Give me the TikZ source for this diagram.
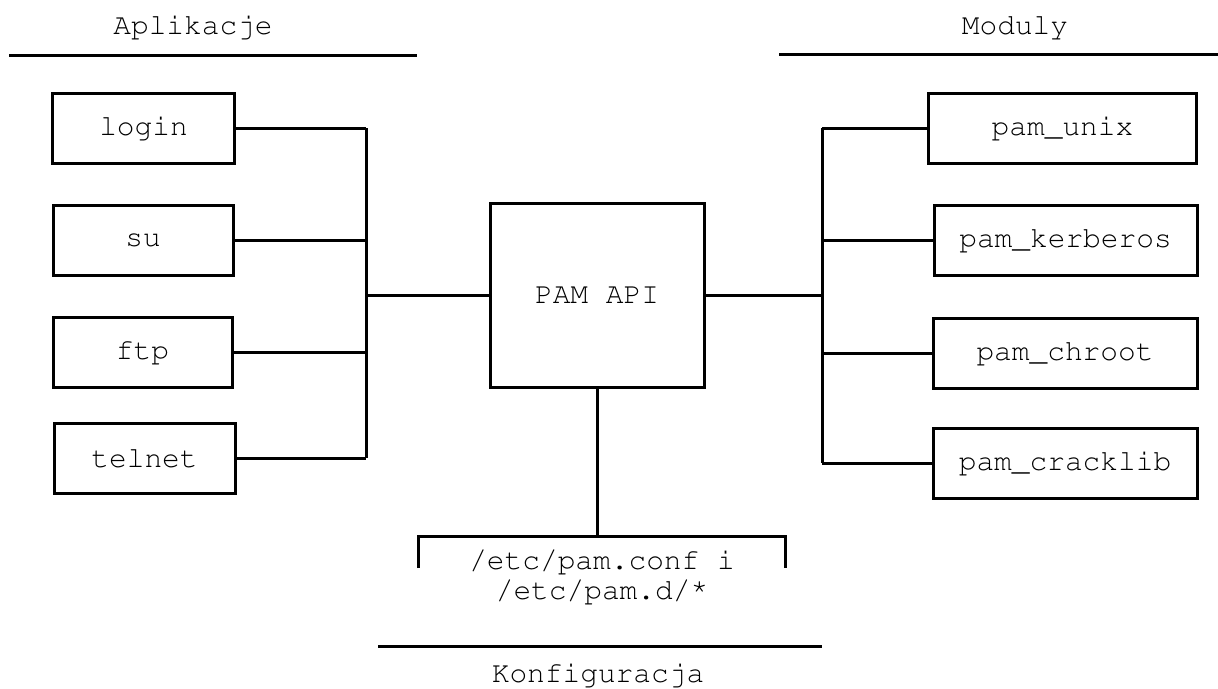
\documentclass[tikz,border=0pt]{standalone}
\usepackage[T1]{fontenc}
\usepackage{courier}
\renewcommand{\familydefault}{\ttdefault}
\begin{document}
\begin{tikzpicture}[x=1pt,y=-1pt,
  every node/.style={font=\ttfamily\fontsize{29.5}{30}\selectfont, inner sep=0pt},
  box/.style={draw, line width=3pt, minimum height=70pt},
  wire/.style={line width=3pt},
  rule/.style={line width=3pt}]
\useasboundingbox (0,0) rectangle (1218,688);
% headers
\node (hApp) at (193,27) {Aplikacje};
\node (hMod) at (1015,27) {Moduly};
\node (hCfg) at (598,675) {Konfiguracja};
\draw[rule] (9,55) -- (417,55);
\draw[rule] (779,54) -- (1218,54);
\draw[rule] (378,646) -- (822,646);
% left boxes
\node[box, minimum width=182pt] (login) at (143.5,128) {login};
\node[box, minimum width=180pt] (su) at (143,240.5) {su};
\node[box, minimum width=179pt] (ftp) at (142.5,352) {ftp};
\node[box, minimum width=181pt] (telnet) at (144.5,458) {telnet};
% central
\node[box, minimum width=214pt, minimum height=184pt] (pam) at (597,295) {PAM API};
% right boxes
\node[box, minimum width=268pt] (unix) at (1062.5,128) {pam\_unix};
\node[box, minimum width=263pt] (kerb) at (1065.5,240.5) {pam\_kerberos};
\node[box, minimum width=264pt] (chroot) at (1065,353) {pam\_chroot};
\node[box, minimum width=264pt] (crack) at (1065,463) {pam\_cracklib};
% config text
\node[align=center] (cfg) at (602,577) {/etc/pam.conf i\\/etc/pam.d/\raisebox{0.35ex}{*}};
% buses
\coordinate (busLtop) at (366,128);
\coordinate (busLbot) at (366,458);
\coordinate (busRtop) at (822,128);
\coordinate (busRbot) at (822,463);
\draw[wire] (busLtop) -- (busLbot);
\draw[wire] (busRtop) -- (busRbot);
\draw[wire] (login.east) -- (login.east -| busLtop);
\draw[wire] (su.east) -- (su.east -| busLtop);
\draw[wire] (ftp.east) -- (ftp.east -| busLtop);
\draw[wire] (telnet.east) -- (telnet.east -| busLtop);
\draw[wire] (pam.west) -- (pam.west -| busLtop);
\draw[wire] (unix.west) -- (unix.west -| busRtop);
\draw[wire] (kerb.west) -- (kerb.west -| busRtop);
\draw[wire] (chroot.west) -- (chroot.west -| busRtop);
\draw[wire] (crack.west) -- (crack.west -| busRtop);
\draw[wire] (pam.east) -- (pam.east -| busRtop);
% config bracket
\coordinate (cfgtop) at (597,536);
\coordinate (brL) at (418,568);
\coordinate (brR) at (785,568);
\draw[wire] (pam.south) -- (cfgtop);
\draw[wire] (brL) |- (cfgtop) -| (brR);
\end{tikzpicture}
\end{document}
